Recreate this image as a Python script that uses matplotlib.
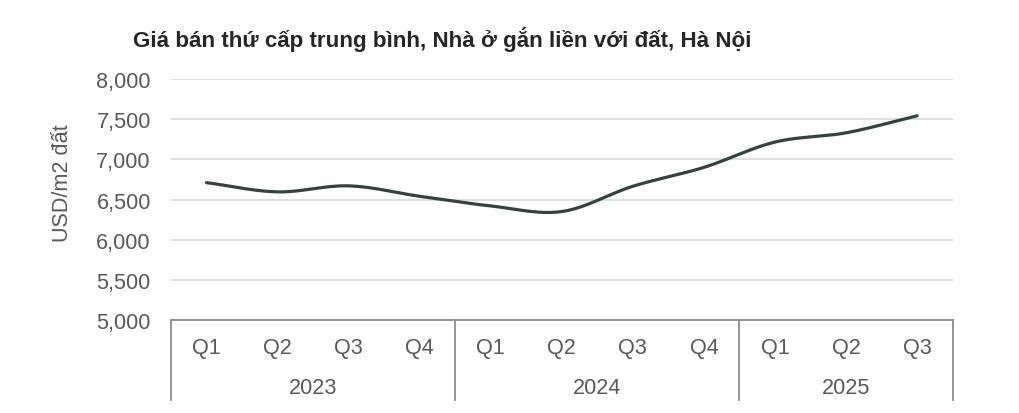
import numpy as np
import matplotlib
matplotlib.use("Agg")
import matplotlib.pyplot as plt
import matplotlib.transforms as mtransforms

plt.rcParams['font.family'] = ['Liberation Sans', 'DejaVu Sans']

title = "Giá bán thứ cấp trung bình, Nhà ở gắn liền với đất, Hà Nội"
ylabel = "USD/m2 đất"
quarters = ["Q1", "Q2", "Q3", "Q4", "Q1", "Q2", "Q3", "Q4", "Q1", "Q2", "Q3"]
years = ["2023", "2024", "2025"]
year_counts = [4, 4, 3]
prices = [6710, 6595, 6670, 6540, 6420, 6350, 6665, 6900, 7215, 7330, 7542]
yticks = [5000, 5500, 6000, 6500, 7000, 7500, 8000]

FS = 15.6
TXT = "#595959"


def catmull_rom(xs, ys, n=30):
    xs = np.asarray(xs, float)
    ys = np.asarray(ys, float)
    px = np.concatenate([[2 * xs[0] - xs[1]], xs, [2 * xs[-1] - xs[-2]]])
    py = np.concatenate([[2 * ys[0] - ys[1]], ys, [2 * ys[-1] - ys[-2]]])
    outx, outy = [], []
    t = np.linspace(0, 1, n, endpoint=False)
    for i in range(1, len(px) - 2):
        for arr, out in ((px, outx), (py, outy)):
            p0, p1, p2, p3 = arr[i - 1], arr[i], arr[i + 1], arr[i + 2]
            c1 = p1 + (p2 - p0) / 6
            c2 = p2 - (p3 - p1) / 6
            out.extend((1 - t) ** 3 * p1 + 3 * (1 - t) ** 2 * t * c1
                       + 3 * (1 - t) * t ** 2 * c2 + t ** 3 * p2)
    outx.append(xs[-1])
    outy.append(ys[-1])
    return np.array(outx), np.array(outy)


fig = plt.figure(figsize=(10.2, 4.14), dpi=100)
ax = fig.add_axes([0.1676, 0.2246, 0.934 - 0.1676, 0.8068 - 0.2246])

x = np.arange(len(prices))
sx, sy = catmull_rom(x, prices)
ax.plot(sx, sy, color="#344241", lw=2.3, solid_capstyle="round", zorder=3)

ax.set_xlim(-0.5, len(prices) - 0.5)
ax.set_ylim(5000, 8000)
ax.set_yticks(yticks)
ax.set_yticklabels([f"{v:,}" for v in yticks], fontsize=FS, color=TXT)
ax.tick_params(axis="y", length=0, pad=14.5)
ax.grid(axis="y", color="#d9d9d9", lw=1.2)
ax.set_axisbelow(True)
ax.set_xticks([])
for s in ["top", "right", "left"]:
    ax.spines[s].set_visible(False)
ax.spines["bottom"].set_color("#8c8c8c")
ax.spines["bottom"].set_linewidth(1.3)

trans = mtransforms.blended_transform_factory(ax.transData, ax.transAxes)
for i, q in enumerate(quarters):
    ax.text(i, -0.112, q, transform=trans, ha="center", va="center",
            fontsize=FS, color=TXT)
start = 0
bounds = [-0.5]
for yr, cnt in zip(years, year_counts):
    ax.text(start + (cnt - 1) / 2, -0.278, yr, transform=trans, ha="center",
            va="center", fontsize=FS, color=TXT)
    start += cnt
    bounds.append(start - 0.5)
for b in bounds:
    ax.plot([b, b], [0, -0.33], transform=trans, color="#8c8c8c", lw=1.3,
            clip_on=False)

fig.text(63 / 1020, 1 - 183 / 414, ylabel, rotation=90, ha="center", va="center",
         fontsize=FS, color=TXT)
fig.text(133 / 1020, 1 - 39 / 414, title, ha="left", va="center",
         fontsize=16.1, fontweight="bold", color="#262626")

fig.savefig("out.png", dpi=100, facecolor="white")
